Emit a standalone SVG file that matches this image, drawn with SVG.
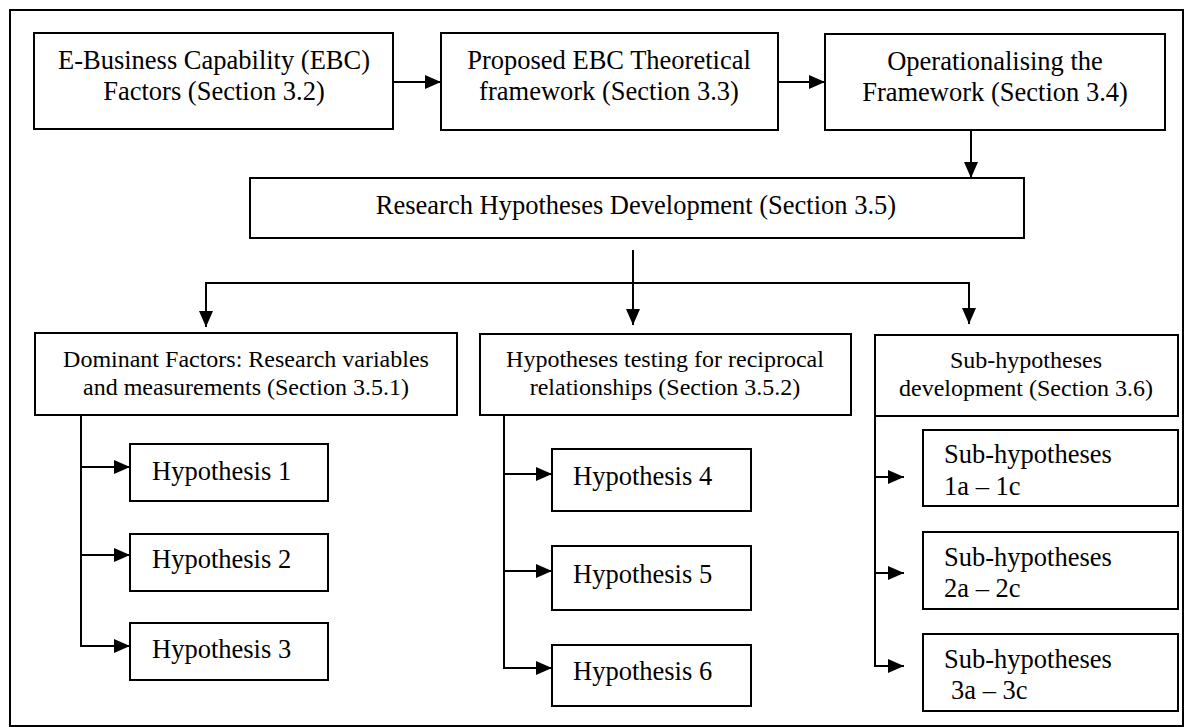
<svg xmlns="http://www.w3.org/2000/svg" width="1185" height="727" viewBox="0 0 1185 727">
<defs>
<marker id="ah" markerUnits="userSpaceOnUse" markerWidth="18" markerHeight="16" refX="16" refY="7" orient="auto">
<path d="M0,0 L16,7 L0,14 Z" fill="#000"/>
</marker>
<style>
.box{fill:#fff;stroke:#000;stroke-width:2}
.t{font-family:"Liberation Serif","Times New Roman",serif;fill:#000}
.l{font-size:26.5px}
.m{font-size:24px}
.c{text-anchor:middle}
.ln{fill:none;stroke:#000;stroke-width:2}
</style>
</defs>
<rect x="0" y="0" width="1185" height="727" fill="#fff"/>
<rect x="10" y="10" width="1173" height="716" fill="none" stroke="#000" stroke-width="2"/>

<g id="connectors">
<line class="ln" x1="393" y1="82" x2="441" y2="82" marker-end="url(#ah)"/>
<line class="ln" x1="778" y1="82" x2="825" y2="82" marker-end="url(#ah)"/>
<line class="ln" x1="971" y1="130" x2="971" y2="178" marker-end="url(#ah)"/>
<line class="ln" x1="633" y1="250" x2="633" y2="325" marker-end="url(#ah)"/>
<polyline class="ln" points="206,327 206,283 969,283 969,324"/>
<line class="ln" x1="206" y1="283" x2="206" y2="327" marker-end="url(#ah)"/>
<line class="ln" x1="969" y1="283" x2="969" y2="324" marker-end="url(#ah)"/>
<line class="ln" x1="81" y1="415" x2="81" y2="646"/>
<line class="ln" x1="81" y1="467" x2="130" y2="467" marker-end="url(#ah)"/>
<line class="ln" x1="81" y1="555" x2="130" y2="555" marker-end="url(#ah)"/>
<line class="ln" x1="80" y1="646" x2="130" y2="646" marker-end="url(#ah)"/>
<line class="ln" x1="504" y1="415" x2="504" y2="668"/>
<line class="ln" x1="504" y1="474" x2="552" y2="474" marker-end="url(#ah)"/>
<line class="ln" x1="504" y1="571" x2="552" y2="571" marker-end="url(#ah)"/>
<line class="ln" x1="503" y1="668" x2="552" y2="668" marker-end="url(#ah)"/>
<line class="ln" x1="875" y1="416" x2="875" y2="666"/>
<line class="ln" x1="875" y1="477" x2="904" y2="477" marker-end="url(#ah)"/>
<line class="ln" x1="875" y1="573" x2="904" y2="573" marker-end="url(#ah)"/>
<line class="ln" x1="874" y1="666" x2="904" y2="666" marker-end="url(#ah)"/>
</g>

<g id="ebc-factors">
<rect class="box" x="34" y="33" width="359" height="96"/>
<text class="t l c" x="214" y="69">E-Business Capability (EBC)</text>
<text class="t l c" x="214" y="100">Factors (Section 3.2)</text>
</g>
<g id="ebc-framework">
<rect class="box" x="441" y="33" width="337" height="97"/>
<text class="t l c" x="609" y="69">Proposed EBC Theoretical</text>
<text class="t l c" x="609" y="100">framework (Section 3.3)</text>
</g>
<g id="operationalising">
<rect class="box" x="825" y="34" width="340" height="96"/>
<text class="t l c" x="995" y="70">Operationalising the</text>
<text class="t l c" x="995" y="101">Framework (Section 3.4)</text>
</g>
<g id="research-hypotheses">
<rect class="box" x="250" y="178" width="774" height="60"/>
<text class="t l c" x="636" y="214">Research Hypotheses Development (Section 3.5)</text>
</g>

<g id="dominant-factors">
<rect class="box" x="35" y="333" width="422" height="82"/>
<text class="t m c" x="246" y="367">Dominant Factors: Research variables</text>
<text class="t m c" x="246" y="395">and measurements (Section 3.5.1)</text>
</g>
<g id="hypotheses-testing">
<rect class="box" x="480" y="334" width="371" height="81"/>
<text class="t m c" x="665" y="367">Hypotheses testing for reciprocal</text>
<text class="t m c" x="665" y="395">relationships (Section 3.5.2)</text>
</g>
<g id="sub-hypotheses-dev">
<rect class="box" x="875" y="335" width="303" height="81"/>
<text class="t m c" x="1026" y="368">Sub-hypotheses</text>
<text class="t m c" x="1026" y="396">development (Section 3.6)</text>
</g>

<g id="h1"><rect class="box" x="130" y="444" width="198" height="57"/><text class="t l" x="152" y="480">Hypothesis 1</text></g>
<g id="h2"><rect class="box" x="130" y="534" width="198" height="57"/><text class="t l" x="152" y="568">Hypothesis 2</text></g>
<g id="h3"><rect class="box" x="130" y="623" width="198" height="57"/><text class="t l" x="152" y="658">Hypothesis 3</text></g>

<g id="h4"><rect class="box" x="552" y="449" width="199" height="62"/><text class="t l" x="573" y="485">Hypothesis 4</text></g>
<g id="h5"><rect class="box" x="552" y="546" width="199" height="64"/><text class="t l" x="573" y="583">Hypothesis 5</text></g>
<g id="h6"><rect class="box" x="552" y="645" width="199" height="61"/><text class="t l" x="573" y="680">Hypothesis 6</text></g>

<g id="s1"><rect class="box" x="923" y="430" width="255" height="76"/><text class="t l" x="944" y="463">Sub-hypotheses</text><text class="t l" x="944" y="495">1a – 1c</text></g>
<g id="s2"><rect class="box" x="923" y="532" width="255" height="77"/><text class="t l" x="944" y="566">Sub-hypotheses</text><text class="t l" x="944" y="597">2a – 2c</text></g>
<g id="s3"><rect class="box" x="923" y="634" width="255" height="77"/><text class="t l" x="944" y="668">Sub-hypotheses</text><text class="t l" x="951" y="699">3a – 3c</text></g>
</svg>
